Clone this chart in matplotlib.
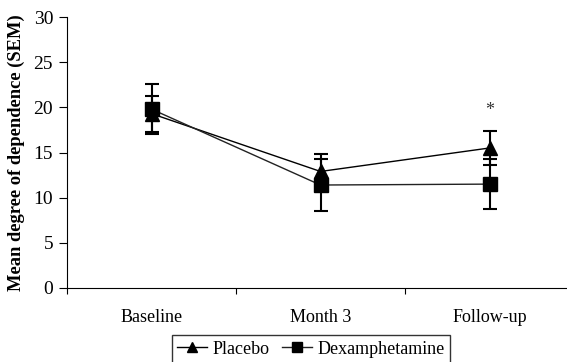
import numpy as np
from matplotlib import pyplot as plt

plt.rcParams['font.family'] = ['Liberation Serif', 'DejaVu Serif']

# data
categories = ["Baseline", "Month 3", "Follow-up"]
placebo = [19.3, 12.9, 15.5]
placebo_sem = [2.0, 1.9, 1.9]
dex = [19.8, 11.4, 11.5]
dex_sem = [2.8, 2.85, 2.75]
star_y = 19.7

fig = plt.figure(figsize=(5.67, 3.62), dpi=100)
ax = fig.add_axes([67/567, 74/362, 507/567, 271/362])

x = np.arange(len(categories)) + 0.5

# error bars first, lines + markers on top
ax.errorbar(x, placebo, yerr=placebo_sem, fmt="none", ecolor="black",
            capsize=5, elinewidth=1.5, capthick=1.5, zorder=2)
ax.errorbar(x, dex, yerr=dex_sem, fmt="none", ecolor="black",
            capsize=5, elinewidth=1.5, capthick=1.5, zorder=2)
ax.plot(x, placebo, color="black", lw=1.0, marker="^", ms=10, label="Placebo", zorder=3)
ax.plot(x, dex, color="#222222", mfc="black", mec="black", lw=1.0, marker="s", ms=10,
        label="Dexamphetamine", zorder=3)

ax.text(x[2], star_y, "*", ha="center", va="center", fontsize=13, color="#333333")

ax.set_xlim(0, 3)
ax.set_ylim(0, 30)
ax.set_yticks(np.arange(0, 31, 5))
ax.set_xticks([0, 1, 2, 3])
ax.set_xticklabels([])
ax.set_xticks(x, minor=True)
ax.set_xticklabels(categories, minor=True)
ax.tick_params(axis="x", which="minor", length=0, pad=15, labelsize=13)
ax.tick_params(axis="x", which="major", length=4, direction="out")
ax.tick_params(axis="y", length=6, direction="out", pad=4, labelsize=14)
ax.spines["top"].set_visible(False)
ax.spines["right"].set_visible(False)
ax.set_ylabel("Mean degree of dependence (SEM)", fontweight="bold", fontsize=13.3, labelpad=6)

leg = fig.legend(loc="center", bbox_to_anchor=(311/567, 1 - 349/362), ncol=2,
                 frameon=True, fancybox=False, edgecolor="black", fontsize=13,
                 handlelength=1.66, handletextpad=0.28, columnspacing=0.72,
                 borderpad=0.3, borderaxespad=0, markerscale=0.75)
leg.get_frame().set_linewidth(1.0)

fig.savefig("out.png", dpi=100)
